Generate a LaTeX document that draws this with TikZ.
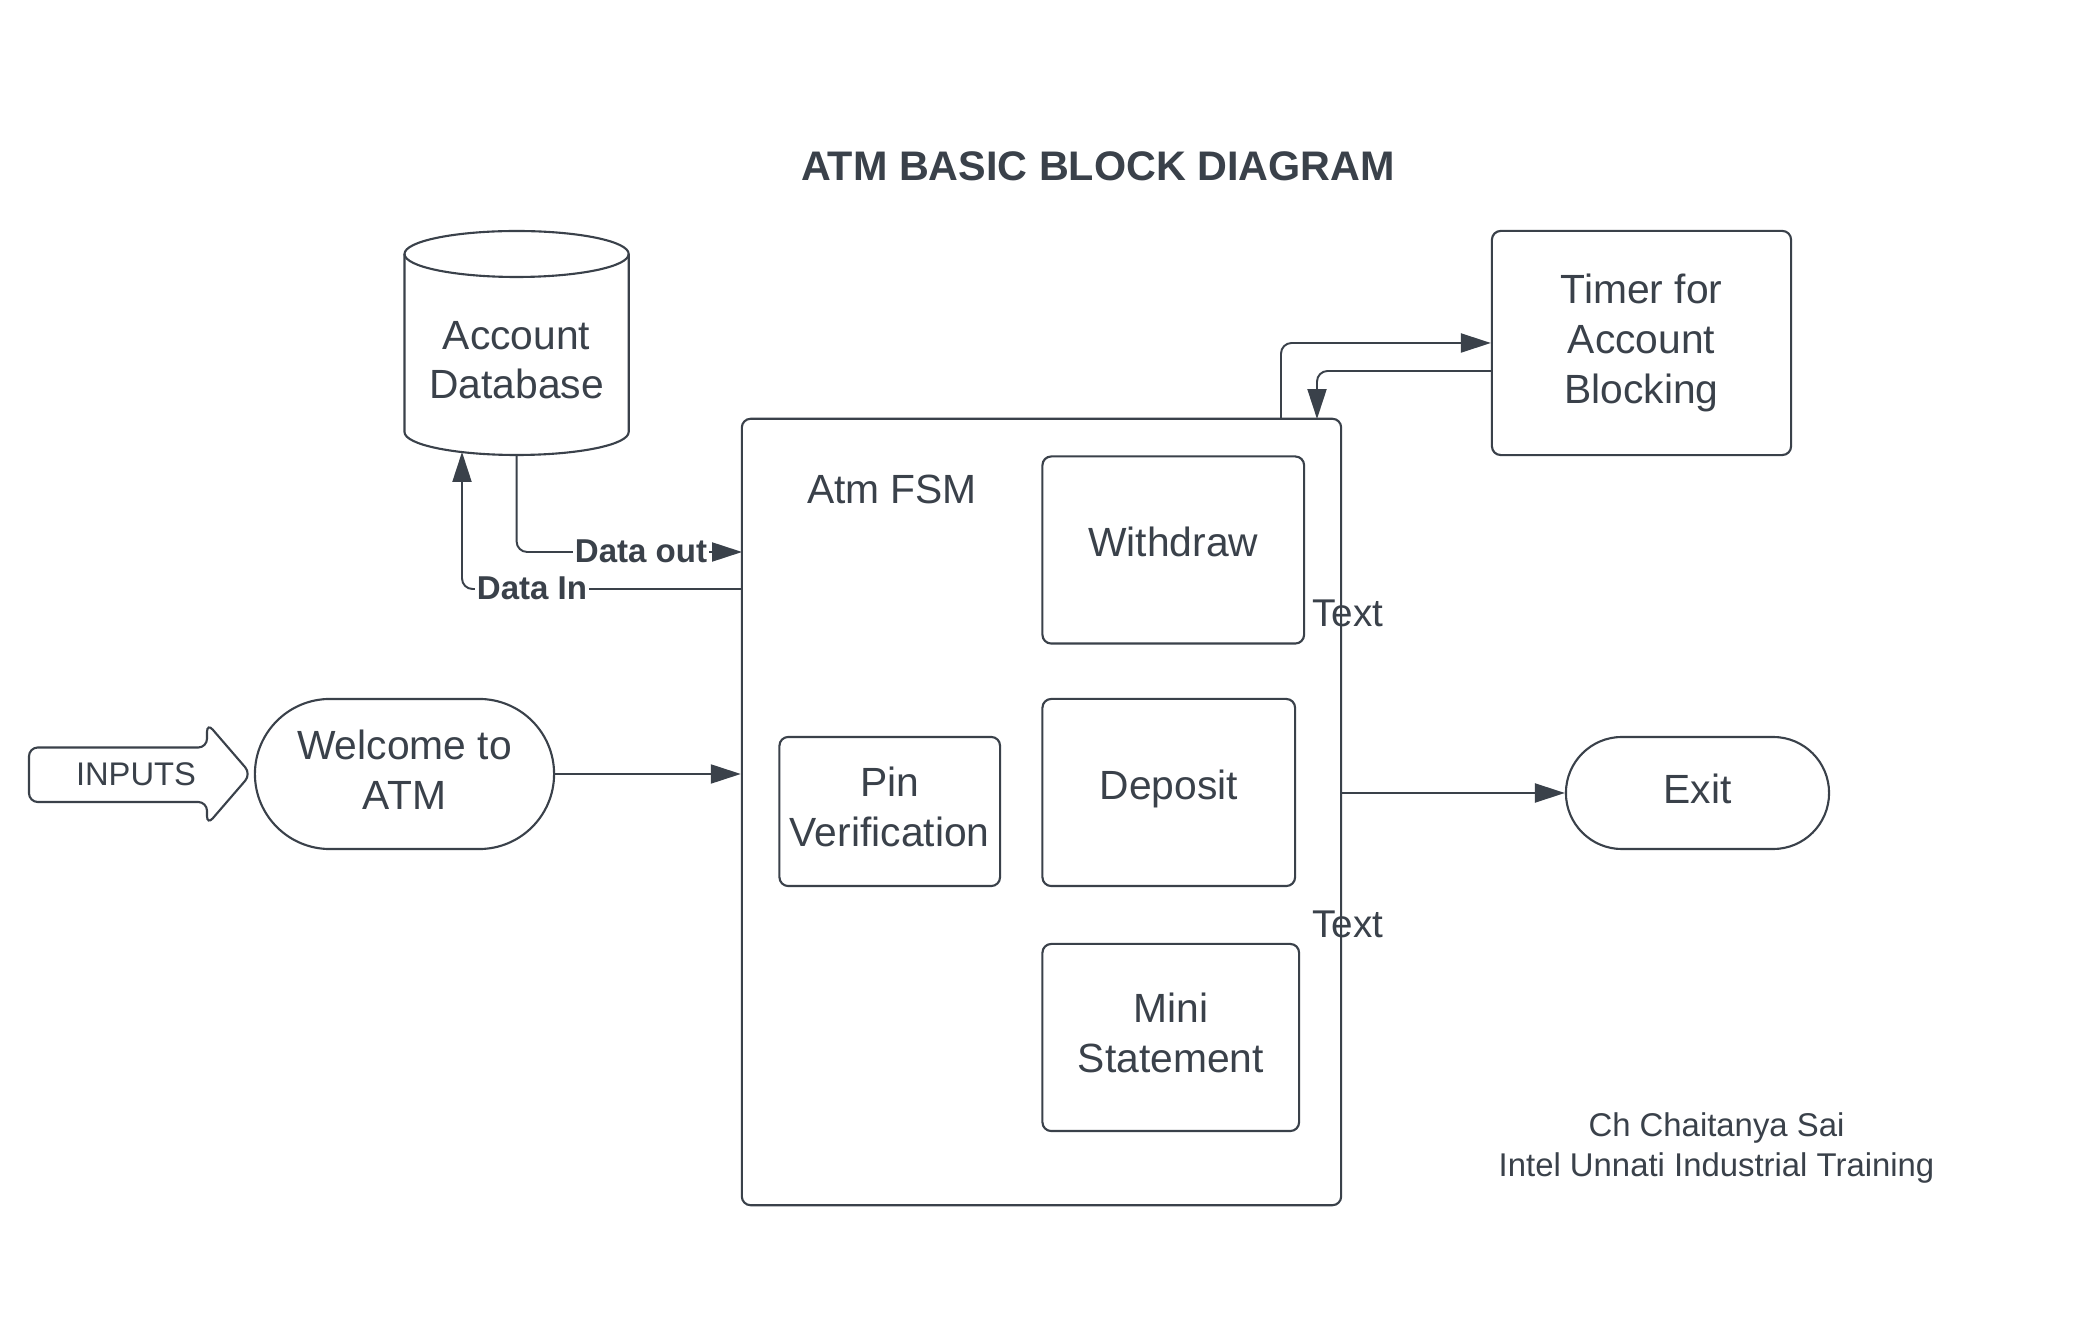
\documentclass[tikz,border=0pt]{standalone}
\usepackage{fontspec}
\setmainfont{Liberation Sans}
\usetikzlibrary{arrows.meta,shapes.misc}
\definecolor{ink}{HTML}{3A414A}
\newcommand{\mainf}{\fontsize{11.6}{14.1}\selectfont}
\begin{document}
\begin{tikzpicture}[x=0.01cm,y=-0.01cm,
  every node/.style={text=ink},
  box/.style={draw=ink,line width=0.6pt,rounded corners=2.5pt,align=center,font=\mainf,inner sep=0pt},
  pill/.style={draw=ink,line width=0.6pt,align=center,font=\mainf,inner sep=0pt,rounded rectangle},
  conn/.style={draw=ink,line width=0.55pt,rounded corners=3pt},
  arr/.style={-{Triangle[length=8.5pt,width=5.4pt]}},
  lbl/.style={font=\fontsize{9.4}{11}\selectfont\bfseries,fill=white,inner sep=0.5pt},
  plain/.style={font=\mainf,align=center,inner sep=0pt}
]
\useasboundingbox (0,0) rectangle (2093,1331);
\fill[white] (0,0) rectangle (2093,1331);

% title
\node[font=\fontsize{11.75}{14}\selectfont\bfseries] (title) at (1098,166) {ATM BASIC BLOCK DIAGRAM};

% account database cylinder
\draw[ink,line width=0.6pt,fill=white] (404.5,254) -- (404.5,432) arc[start angle=180,end angle=0,x radius=112.1,y radius=23] -- (628.7,254);
\draw[ink,line width=0.6pt] (516.6,254) ellipse[x radius=112.1,y radius=23];
\node[plain] (db) at (516.6,360) {Account\\Database};
\coordinate (dbout) at (516.6,455);
\coordinate (dbin) at (462,452);

% FSM container
\node[box,minimum width=5.99cm,minimum height=7.86cm] (fsm) at (1041.5,812) {};
\node[plain] (fsmlabel) at (892,489) {Atm FSM};
\node[box,minimum width=2.615cm,minimum height=1.87cm,text depth=4.6pt] (withdraw) at (1173.25,550) {Withdraw};
\node[box,minimum width=2.525cm,minimum height=1.87cm,text depth=4.2pt] (deposit) at (1168.75,792.5) {Deposit};
\node[box,minimum width=2.565cm,minimum height=1.87cm,text depth=2.8pt] (mini) at (1170.75,1037.5) {Mini\\Statement};
\node[box,minimum width=2.205cm,minimum height=1.49cm,text depth=2.8pt] (pin) at (889.75,811.5) {Pin\\Verification};

% stray "Text" labels
\node[font=\fontsize{11}{13}\selectfont,inner sep=0pt] (txt1) at (1348,613) {Text};
\node[font=\fontsize{11}{13}\selectfont,inner sep=0pt] (txt2) at (1348,924) {Text};

% timer
\node[box,minimum width=2.99cm,minimum height=2.24cm] (timer) at (1641.5,343) {Timer for\\Account\\Blocking};

% welcome and exit
\node[pill,minimum width=2.99cm,minimum height=1.50cm,text depth=2.3pt] (welcome) at (404.5,774) {Welcome to\\ATM};
\node[pill,minimum width=2.63cm,minimum height=1.12cm,text depth=2.3pt] (exit) at (1697.5,793) {Exit};

% inputs arrow
\draw[ink,line width=0.6pt,rounded corners=2.5pt] (207,747.5) -- (29,747.5) -- (29,802) -- (207,802) -- (207,825) -- (251,774) -- (207,723) -- cycle;
\node[font=\fontsize{9.3}{11}\selectfont,inner sep=0pt] (inputs) at (136,774) {INPUTS};

% connectors
\coordinate (doutend) at (742,552);
\coordinate (dinstart) at (742,589);
\draw[conn,arr] (dbout) |- (doutend);
\draw[conn,arr] (dinstart) -| (dbin);
\node[lbl] (dlabel1) at (641,551) {Data out};
\node[lbl] (dlabel2) at (532,588) {Data In};

\draw[conn,arr] (welcome.east) -- (welcome.east -| fsm.west);
\draw[conn,arr] (exit.west -| fsm.east) -- (exit.west);

\coordinate (tout) at (1281,419);
\coordinate (tbackstart) at (1492,371);
\coordinate (tbackend) at (1317,419);
\draw[conn,arr] (tout) |- (timer.west);
\draw[conn,arr] (tbackstart) -| (tbackend);

% footer
\node[font=\fontsize{9.35}{11.4}\selectfont,align=center,inner sep=0pt] (footer) at (1716.5,1148) {Ch Chaitanya Sai\\Intel Unnati Industrial Training};
\end{tikzpicture}
\end{document}
